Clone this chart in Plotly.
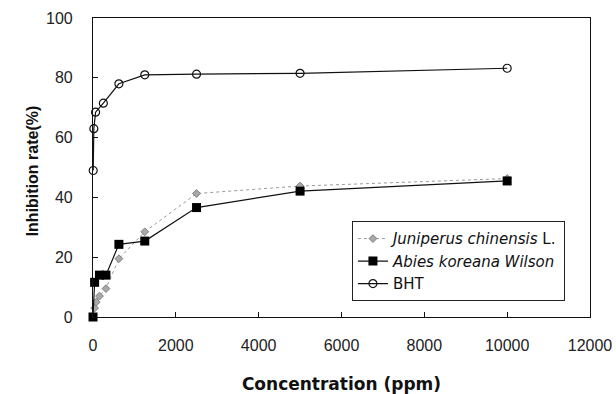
import plotly.graph_objects as go

conc_juniperus = [0, 39, 78, 156, 312.5, 625, 1250, 2500, 5000, 10000]
juniperus = [0, 3, 5, 7, 9.5, 19.5, 28.5, 41.3, 43.8, 46.3]
conc_abies = [0, 39, 156, 312.5, 625, 1250, 2500, 5000, 10000]
abies = [0, 11.6, 14, 14, 24.3, 25.4, 36.6, 42.1, 45.5]
conc_bht = [5, 20, 62.5, 250, 625, 1250, 2500, 5000, 10000]
bht = [49, 63, 68.5, 71.5, 78, 81, 81.2, 81.5, 83.2]

x_ticks = [0, 2000, 4000, 6000, 8000, 10000, 12000]
y_ticks = [0, 20, 40, 60, 80, 100]

FONT = "Liberation Sans, Arial, sans-serif"
LEG_FONT = "DejaVu Sans, Liberation Sans, sans-serif"

fig = go.Figure()
fig.add_trace(go.Scatter(
    x=conc_juniperus, y=juniperus, mode="lines+markers",
    name="<i>Juniperus chinensis</i> L.",
    line=dict(color="#9a9a9a", width=1, dash="dot"),
    marker=dict(symbol="diamond", size=6, color="#a8a8a8",
                line=dict(color="#808080", width=1)),
    cliponaxis=False,
))
fig.add_trace(go.Scatter(
    x=conc_abies, y=abies, mode="lines+markers",
    name="<i>Abies koreana Wilson</i>",
    line=dict(color="#111111", width=1.2),
    marker=dict(symbol="square", size=9, color="#000000"),
    cliponaxis=False,
))
fig.add_trace(go.Scatter(
    x=conc_bht, y=bht, mode="lines+markers",
    name="BHT",
    line=dict(color="#111111", width=1.2),
    marker=dict(symbol="circle-open", size=8, color="#111111",
                line=dict(width=1.2)),
    cliponaxis=False,
))

fig.update_layout(
    width=616, height=394,
    margin=dict(l=93, r=26, t=18, b=77),
    paper_bgcolor="white", plot_bgcolor="white",
    font=dict(family=FONT, size=16, color="#222222"),
    showlegend=True,
    legend=dict(
        x=0.521, y=0.32, xanchor="left", yanchor="top",
        bgcolor="white", bordercolor="#222222", borderwidth=1,
        font=dict(family=LEG_FONT, size=15, color="#111111"),
        tracegroupgap=0, itemwidth=30,
    ),
    xaxis=dict(
        range=[0, 12000], tickvals=x_ticks,
        ticktext=[str(v) for v in x_ticks],
        showline=True, linecolor="#111111", linewidth=1.2, mirror=True,
        ticks="inside", ticklen=5, tickcolor="#111111",
        showgrid=False, zeroline=False, automargin=False,
        ticklabelstandoff=14,
        tickfont=dict(family=FONT, size=16, color="#222222"),
        title=dict(text="<b>Concentration (ppm)</b>", standoff=24,
                   font=dict(family="DejaVu Sans, sans-serif", size=17,
                             color="#111111")),
    ),
    yaxis=dict(
        range=[0, 100], tickvals=y_ticks,
        showline=True, linecolor="#111111", linewidth=1.2, mirror=True,
        ticks="inside", ticklen=5, tickcolor="#111111",
        showgrid=False, zeroline=False, automargin=False,
        ticklabelstandoff=16,
        tickfont=dict(family=FONT, size=16, color="#222222"),
    ),
    annotations=[dict(
        text="<b>Inhibition rate(%)</b>", textangle=-90,
        xref="paper", yref="paper", x=-0.121, y=0.49,
        xanchor="center", yanchor="middle", showarrow=False,
        font=dict(family=FONT, size=16, color="#111111"),
    )],
)

fig.write_html("out.html")
